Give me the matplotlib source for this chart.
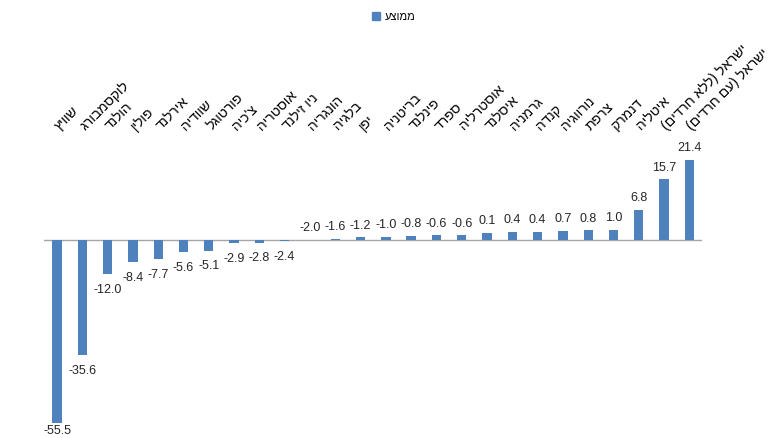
import matplotlib
matplotlib.use("Agg")
import matplotlib.pyplot as plt
import matplotlib.transforms as mtransforms
from matplotlib.patches import Patch

countries = ["שוויץ", "לוקסמבורג", "הולנד", "פולין", "אירלנד", "שוודיה", "פורטוגל",
             "צ'כיה", "אוסטריה", "ניו זילנד", "הונגריה", "בלגיה", "יפן", "בריטניה",
             "פינלנד", "ספרד", "אוסטרליה", "איסלנד", "גרמניה", "קנדה", "נורווגיה",
             "צרפת", "דנמרק", "איטליה", "ישראל (ללא חרדים)", "ישראל (עם חרדים)"]
values = [-55.5, -35.6, -12.0, -8.4, -7.7, -5.6, -5.1, -2.9, -2.8, -2.4, -2.0, -1.6,
          -1.2, -1.0, -0.8, -0.6, -0.6, 0.1, 0.4, 0.4, 0.7, 0.8, 1.0, 6.8, 15.7, 21.4]
series_name = "ממוצע"
axis_cross = -2.0

def visual(s):
    # Hebrew is right-to-left: reverse for display, mirror parentheses
    r = s[::-1]
    return r.translate(str.maketrans("()", ")("))

color = "#4F81BD"
plt.rcParams['font.family'] = ['Liberation Sans', 'DejaVu Sans']

fig = plt.figure(figsize=(7.8, 4.38), dpi=100)
ax = fig.add_axes([44.4 / 780, 8 / 438, (702 - 44.4) / 780, 400 / 438])

x = list(range(len(values)))
heights = [v - axis_cross for v in values]
ax.bar(x, heights, bottom=axis_cross, width=0.37, color=color)
ax.axhline(axis_cross, color="#a6a6a6", lw=1.0, zorder=0)

ax.set_xlim(-0.5, len(values) - 0.5)
ax.set_ylim(-57.56, 59.4)
ax.axis("off")

ymin = ax.get_ylim()[0]
for xi, v in zip(x, values):
    if v >= axis_cross:
        ax.annotate(f"{v:.1f}", (xi, v), xytext=(0, 4), textcoords="offset points",
                    ha="center", va="bottom", fontsize=9, color="#262626")
    else:
        # keep label inside figure for the deepest bar
        off = -7 if (v - ymin) > 5 else -1.5
        ax.annotate(f"{v:.1f}", (xi, v), xytext=(0, off), textcoords="offset points",
                    ha="center", va="top", fontsize=9, color="#262626")

trans = mtransforms.blended_transform_factory(ax.transData, ax.transAxes)
for xi, c in zip(x, countries):
    ax.text(xi + 0.2, (430 - 133) / 400, visual(c), transform=trans, rotation=45,
            rotation_mode="anchor", ha="left", va="bottom", fontsize=10, color="black")

handle = Patch(facecolor=color, edgecolor=color)
fig.legend([handle], [visual(series_name)], loc="center",
           bbox_to_anchor=(0.505, 1 - 17 / 438), frameon=False, fontsize=8,
           handlelength=0.7, handleheight=0.7, handletextpad=0.5)

fig.savefig("out.png", dpi=100)
